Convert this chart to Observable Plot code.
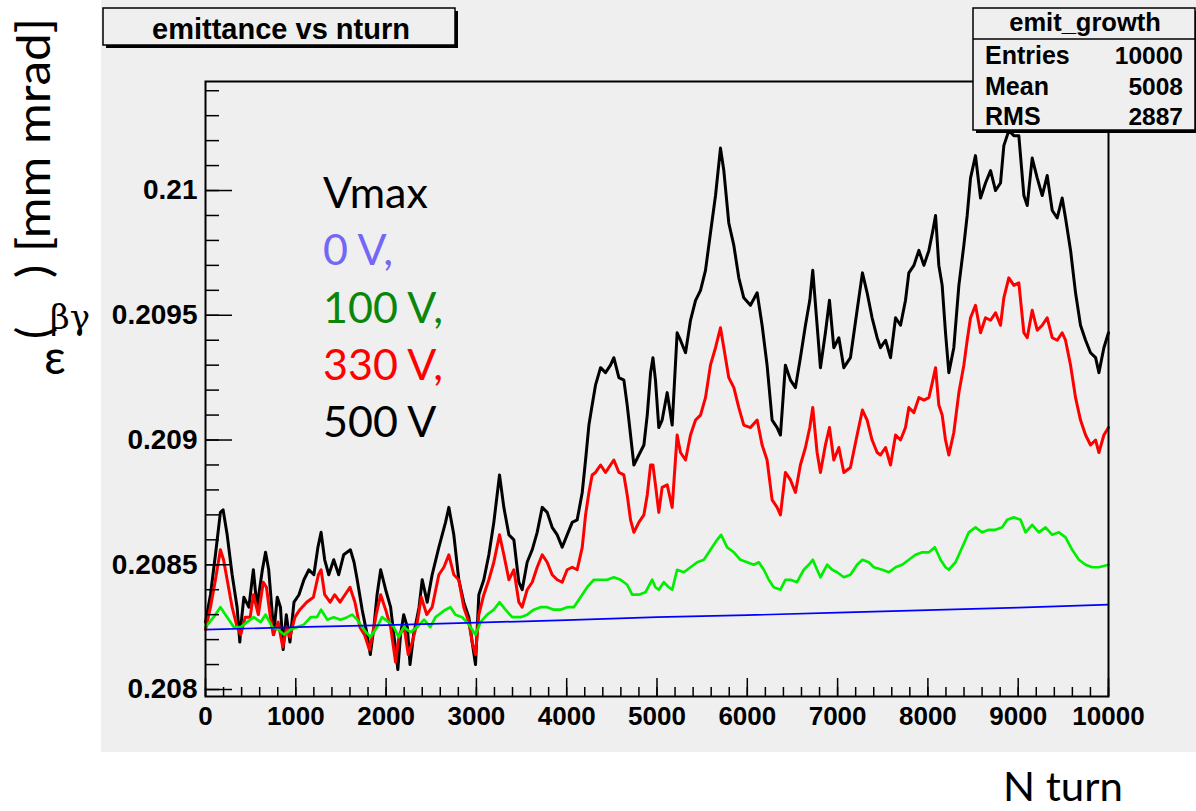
<!DOCTYPE html>
<html><head><meta charset="utf-8">
<script src="https://cdn.jsdelivr.net/npm/d3@7"></script>
<script src="https://cdn.jsdelivr.net/npm/@observablehq/plot@0.6"></script>
<style>
body{margin:0;background:#fff;}
#chart{width:1196px;height:811px;}
</style></head><body><div id="chart"></div>
<script>
// ---- data (turn, emittance) ----
const emit0V = [[0,0.20824],[1000,0.20825],[2000,0.208258],[3000,0.208268],[4000,0.208278],[5000,0.20829],[6000,0.208298],[7000,0.208308],[8000,0.208318],[9000,0.208328],[10000,0.20834]];

const emit100V = [[0,0.20825],[90,0.20829],[165,0.20833],[240,0.20829],[315,0.20825],[390,0.20825],[460,0.20827],[535,0.20829],[610,0.20827],[665,0.20830],[740,0.20825],[810,0.20824],[870,0.20822],[940,0.20824],[1015,0.20825],[1090,0.20826],[1165,0.20829],[1235,0.20829],[1280,0.20832],[1350,0.20828],[1420,0.20829],[1495,0.20828],[1570,0.20829],[1625,0.20830],[1680,0.20828],[1755,0.20824],[1825,0.20821],[1900,0.20825],[1955,0.20829],[2030,0.20827],[2085,0.20825],[2140,0.20821],[2195,0.20825],[2270,0.20823],[2345,0.20825],[2420,0.20828],[2490,0.20825],[2547,0.20829],[2658,0.20832],[2713,0.20833],[2768,0.20830],[2842,0.20829],[2916,0.20826],[2990,0.20822],[3045,0.20827],[3119,0.20830],[3193,0.20832],[3256,0.20835],[3322,0.20832],[3397,0.20829],[3489,0.20829],[3562,0.20830],[3636,0.20832],[3710,0.20833],[3784,0.20833],[3858,0.20832],[3932,0.20832],[4005,0.20833],[4079,0.20833],[4153,0.20837],[4227,0.20841],[4301,0.20844],[4375,0.20844],[4449,0.20844],[4522,0.20845],[4596,0.20844],[4670,0.20842],[4725,0.20838],[4799,0.20838],[4873,0.20839],[4947,0.20844],[4983,0.20841],[5020,0.20840],[5075,0.20843],[5131,0.20841],[5168,0.20840],[5223,0.20848],[5297,0.20847],[5371,0.20849],[5445,0.20851],[5519,0.20852],[5592,0.20856],[5666,0.20860],[5710,0.20862],[5777,0.20857],[5851,0.20855],[5924,0.20852],[5998,0.20851],[6072,0.20850],[6127,0.20851],[6183,0.20848],[6238,0.20844],[6293,0.20841],[6367,0.20840],[6422,0.20844],[6478,0.20844],[6551,0.20843],[6625,0.20848],[6681,0.20850],[6725,0.20852],[6773,0.20848],[6810,0.20845],[6884,0.20850],[6940,0.20848],[6995,0.20847],[7069,0.20845],[7142,0.20846],[7216,0.20850],[7275,0.20852],[7345,0.20851],[7401,0.20849],[7494,0.20848],[7568,0.20847],[7642,0.20849],[7715,0.20850],[7789,0.20852],[7863,0.20854],[7937,0.20855],[8011,0.20855],[8077,0.20857],[8140,0.20852],[8195,0.20849],[8232,0.20848],[8306,0.20851],[8380,0.20857],[8453,0.20863],[8527,0.20865],[8601,0.20863],[8675,0.20864],[8749,0.20864],[8823,0.20865],[8878,0.20868],[8952,0.20869],[9026,0.20868],[9081,0.20863],[9155,0.20866],[9229,0.20863],[9303,0.20865],[9377,0.20862],[9451,0.20863],[9524,0.20861],[9598,0.20856],[9672,0.20852],[9746,0.20850],[9820,0.20849],[9894,0.20849],[10000,0.20850]];

const emit330V = [[0,0.20824],[55,0.20833],[110,0.20844],[165,0.20856],[200,0.20852],[240,0.20844],[295,0.20833],[350,0.20825],[390,0.20822],[440,0.20829],[495,0.20829],[530,0.20838],[585,0.20830],[640,0.20843],[675,0.20841],[715,0.20830],[750,0.20822],[805,0.20827],[855,0.20817],[900,0.20825],[935,0.20821],[990,0.20829],[1045,0.20832],[1120,0.20835],[1195,0.20837],[1250,0.20846],[1280,0.20848],[1320,0.20838],[1380,0.20835],[1430,0.20838],[1490,0.20835],[1545,0.20838],[1600,0.20841],[1655,0.20835],[1710,0.20825],[1760,0.20822],[1815,0.20816],[1850,0.20822],[1890,0.20830],[1940,0.20838],[1995,0.20832],[2050,0.20825],[2105,0.20811],[2145,0.20822],[2200,0.20825],[2245,0.20814],[2290,0.20819],[2345,0.20827],[2390,0.20837],[2450,0.20830],[2510,0.20833],[2584,0.20846],[2640,0.20849],[2695,0.20854],[2750,0.20846],[2805,0.20844],[2860,0.20833],[2916,0.20827],[2953,0.20819],[2990,0.20814],[3027,0.20830],[3082,0.20838],[3138,0.20844],[3193,0.20851],[3256,0.20862],[3304,0.20854],[3360,0.20844],[3415,0.20848],[3470,0.20835],[3507,0.20833],[3562,0.20840],[3618,0.20843],[3673,0.20849],[3729,0.20854],[3784,0.20851],[3839,0.20846],[3895,0.20844],[3950,0.20843],[4005,0.20848],[4061,0.20849],[4116,0.20848],[4172,0.20857],[4209,0.20870],[4246,0.20879],[4282,0.20886],[4319,0.20887],[4375,0.20890],[4430,0.20887],[4485,0.20890],[4522,0.20892],[4578,0.20887],[4633,0.20886],[4670,0.20878],[4707,0.20868],[4744,0.20863],[4799,0.20867],[4855,0.20870],[4892,0.20878],[4929,0.20890],[4955,0.20890],[4983,0.20882],[5020,0.20871],[5057,0.20881],[5113,0.20882],[5168,0.20873],[5223,0.20902],[5260,0.20895],[5316,0.20892],[5371,0.20902],[5427,0.20908],[5482,0.20910],[5537,0.20917],[5592,0.20930],[5648,0.20937],[5703,0.20945],[5740,0.20937],[5795,0.20925],[5851,0.20921],[5906,0.20913],[5961,0.20906],[6035,0.20905],[6109,0.20908],[6164,0.20898],[6219,0.20892],[6275,0.20876],[6330,0.20873],[6367,0.20870],[6422,0.20887],[6478,0.20884],[6533,0.20879],[6588,0.20890],[6644,0.20897],[6692,0.20905],[6725,0.20913],[6773,0.20895],[6810,0.20887],[6865,0.20898],[6910,0.20905],[6958,0.20892],[7014,0.20897],[7069,0.20887],[7142,0.20889],[7216,0.20902],[7275,0.20912],[7327,0.20908],[7382,0.20900],[7438,0.20895],[7475,0.20894],[7531,0.20897],[7586,0.20890],[7642,0.20902],[7697,0.20900],[7752,0.20905],[7789,0.20913],[7845,0.20911],[7900,0.20917],[7956,0.20916],[8011,0.20917],[8055,0.20924],[8085,0.20929],[8121,0.20914],[8158,0.20910],[8195,0.20900],[8232,0.20894],[8287,0.20903],[8343,0.20919],[8398,0.20930],[8435,0.20940],[8472,0.20949],[8527,0.20954],[8583,0.20943],[8638,0.20949],[8694,0.20948],[8749,0.20951],[8804,0.20946],[8841,0.20957],[8896,0.20965],[8952,0.20962],[9007,0.20963],[9063,0.20943],[9100,0.20941],[9155,0.20952],[9211,0.20944],[9266,0.20946],[9321,0.20949],[9377,0.20941],[9432,0.20940],[9487,0.20943],[9524,0.20940],[9580,0.20930],[9635,0.20917],[9690,0.20908],[9746,0.20902],[9801,0.20898],[9857,0.20900],[9894,0.20895],[9949,0.20902],[10000,0.20905]];

const emit500V = [[0,0.20827],[55,0.20838],[110,0.20854],[165,0.20871],[195,0.20872],[240,0.20862],[295,0.20846],[350,0.20833],[380,0.20819],[390,0.20825],[425,0.20837],[480,0.20833],[530,0.20848],[570,0.20833],[630,0.20848],[665,0.20855],[700,0.20848],[740,0.20830],[755,0.20822],[795,0.20837],[830,0.20833],[860,0.20816],[895,0.20830],[935,0.20819],[980,0.20835],[1035,0.20838],[1090,0.20844],[1145,0.20848],[1200,0.20846],[1245,0.20857],[1280,0.20863],[1320,0.20852],[1365,0.20846],[1420,0.20852],[1475,0.20846],[1530,0.20854],[1605,0.20856],[1645,0.20851],[1680,0.20844],[1735,0.20832],[1790,0.20822],[1825,0.20814],[1865,0.20825],[1900,0.20838],[1940,0.20848],[1995,0.20840],[2050,0.20833],[2105,0.20816],[2130,0.20808],[2160,0.20822],[2195,0.20830],[2235,0.20825],[2265,0.20810],[2305,0.20822],[2365,0.20833],[2400,0.20844],[2455,0.20835],[2510,0.20846],[2584,0.20857],[2658,0.20867],[2695,0.20873],[2750,0.20862],[2805,0.20844],[2860,0.20835],[2916,0.20829],[2953,0.20819],[2990,0.20810],[3027,0.20838],[3082,0.20844],[3138,0.20854],[3193,0.20867],[3256,0.20886],[3304,0.20873],[3360,0.20862],[3415,0.20860],[3470,0.20843],[3507,0.20840],[3562,0.20851],[3618,0.20856],[3673,0.20863],[3729,0.20873],[3784,0.20871],[3839,0.20865],[3895,0.20862],[3950,0.20857],[4005,0.20862],[4061,0.20867],[4116,0.20868],[4172,0.20879],[4209,0.20892],[4246,0.20906],[4282,0.20914],[4319,0.20922],[4375,0.20929],[4430,0.20927],[4485,0.20930],[4522,0.20933],[4578,0.20925],[4633,0.20924],[4670,0.20914],[4707,0.20902],[4744,0.20890],[4799,0.20894],[4855,0.20898],[4892,0.20910],[4929,0.20927],[4955,0.20933],[4983,0.20924],[5020,0.20905],[5057,0.20908],[5113,0.20919],[5168,0.20906],[5223,0.20943],[5260,0.20940],[5316,0.20935],[5371,0.20948],[5427,0.20956],[5482,0.20960],[5537,0.20968],[5592,0.20983],[5648,0.20998],[5703,0.21017],[5740,0.21008],[5795,0.20987],[5851,0.20978],[5906,0.20965],[5961,0.20957],[6035,0.20954],[6109,0.20959],[6164,0.20946],[6219,0.20930],[6275,0.20908],[6330,0.20905],[6367,0.20902],[6422,0.20930],[6478,0.20924],[6533,0.20921],[6588,0.20933],[6644,0.20946],[6692,0.20956],[6725,0.20968],[6773,0.20946],[6810,0.20929],[6865,0.20943],[6910,0.20956],[6958,0.20937],[7014,0.20941],[7069,0.20929],[7142,0.20933],[7216,0.20952],[7275,0.20967],[7327,0.20959],[7382,0.20949],[7438,0.20941],[7475,0.20937],[7531,0.20940],[7586,0.20933],[7642,0.20949],[7697,0.20946],[7752,0.20956],[7789,0.20967],[7845,0.20970],[7900,0.20976],[7956,0.20970],[8011,0.20976],[8055,0.20984],[8085,0.20990],[8121,0.20970],[8158,0.20962],[8195,0.20943],[8232,0.20927],[8287,0.20937],[8343,0.20962],[8398,0.20978],[8435,0.20990],[8472,0.21005],[8527,0.21014],[8583,0.20997],[8638,0.21003],[8694,0.21008],[8749,0.21000],[8804,0.21003],[8841,0.21018],[8896,0.21024],[8952,0.21022],[9007,0.21022],[9063,0.20998],[9100,0.20994],[9155,0.21013],[9211,0.21005],[9266,0.20998],[9321,0.21006],[9377,0.20992],[9432,0.20989],[9487,0.20997],[9524,0.20989],[9580,0.20976],[9635,0.20959],[9690,0.20946],[9746,0.20940],[9801,0.20935],[9857,0.20933],[9894,0.20927],[9949,0.20937],[10000,0.20943]];

// axis ticks and labels
const xMajorTicks = [0,1000,2000,3000,4000,5000,6000,7000,8000,9000,10000];
const xMinorTicks = d3.range(0, 10001, 200);
const yMajorTicks = [0.208, 0.2085, 0.209, 0.2095, 0.21];
const yTickLabels = ["0.208", "0.2085", "0.209", "0.2095", "0.21"];
const yMinorTicks = d3.range(0, 25).map(i => +(0.208 + i * 0.0001).toFixed(4));

// legend / stats text
const legendLabels = ["Vmax", "0 V,", "100 V,", "330 V,", "500 V"];
const legendColors = ["#000000", "#7466f6", "#0b860b", "#ff0000", "#000000"];
const statNames = ["Entries", "Mean", "RMS"];
const statValues = ["10000", "5008", "2887"];

const rows = (arr) => arr.map(([turn, emit]) => ({turn, emit}));
const helv = "'Liberation Sans', Arial, sans-serif";
const sans = "Lato, 'Open Sans', sans-serif";

const plot = Plot.plot({
  width: 1196, height: 811,
  marginLeft: 205, marginRight: 88, marginTop: 81, marginBottom: 115,
  x: {domain: [0, 10000]},
  y: {domain: [0.207972, 0.210437]},
  style: {background: "transparent", fontFamily: helv, color: "black"},
  marks: [
    Plot.line(rows(emit500V), {x: "turn", y: "emit", stroke: "#000000", strokeWidth: 3}),
    Plot.line(rows(emit330V), {x: "turn", y: "emit", stroke: "#ff0000", strokeWidth: 3}),
    Plot.line(rows(emit100V), {x: "turn", y: "emit", stroke: "#00ee00", strokeWidth: 2.7}),
    Plot.line(rows(emit0V), {x: "turn", y: "emit", stroke: "#0000ff", strokeWidth: 1.7}),
    Plot.frame({stroke: "black", strokeWidth: 2}),
    Plot.axisY(yMinorTicks, {tickSize: -14, tickFormat: () => "", label: null, strokeWidth: 1.5}),
    Plot.axisY(yMajorTicks, {tickSize: -27, tickFormat: () => "", label: null, strokeWidth: 1.5}),
    Plot.axisY(yMajorTicks, {tickSize: 0, tickPadding: 8, label: null, fontSize: 28, fontWeight: "bold",
      tickFormat: d => yTickLabels[yMajorTicks.indexOf(d)]}),
    Plot.axisX(xMinorTicks, {tickSize: -9, tickFormat: () => "", label: null, strokeWidth: 1.5}),
    Plot.axisX(xMajorTicks, {tickSize: -18, tickFormat: () => "", label: null, strokeWidth: 1.5}),
    Plot.axisX(xMajorTicks, {tickSize: 0, tickPadding: 10, label: null, fontSize: 26, fontWeight: "bold",
      tickFormat: d => String(d)})
  ]
});

const svg = d3.select(plot);
// gray pad
svg.insert("rect", ":first-child").attr("x", 101).attr("y", 0).attr("width", 1095).attr("height", 752).attr("fill", "#efefef");

const txt = (g, x, y, s, anchor, family, size, weight) =>
  g.append("text").attr("x", x).attr("y", y).attr("text-anchor", anchor).attr("font-family", family)
   .attr("font-size", size).attr("font-weight", weight || "normal").text(s);

// title box with shadow
const tb = svg.append("g");
tb.append("rect").attr("x", 106).attr("y", 11).attr("width", 352).attr("height", 37).attr("fill", "black");
tb.append("rect").attr("x", 103).attr("y", 8).attr("width", 352).attr("height", 37).attr("fill", "#efefef").attr("stroke", "black").attr("stroke-width", 1.5);
txt(tb, 281, 39, "emittance vs nturn", "middle", helv, 29, "bold");

// stats box
const sb = svg.append("g");
sb.append("rect").attr("x", 976).attr("y", 11).attr("width", 222).attr("height", 122).attr("fill", "black");
sb.append("rect").attr("x", 973).attr("y", 8).attr("width", 222).attr("height", 122).attr("fill", "#efefef").attr("stroke", "black").attr("stroke-width", 1.5);
sb.append("line").attr("x1", 973).attr("x2", 1196).attr("y1", 39).attr("y2", 39).attr("stroke", "black").attr("stroke-width", 1.5);
txt(sb, 1085, 31, "emit_growth", "middle", helv, 25.5, "bold");
statNames.forEach((n, i) => {
  const y = 64 + i * 30.5;
  txt(sb, 985, y, n, "start", helv, 25, "bold");
  txt(sb, 1183, y, statValues[i], "end", helv, 24.5, "bold");
});

// legend text
legendLabels.forEach((t, i) => {
  txt(svg, 323, 208 + i * 57.3, t, "start", sans, 43).attr("fill", legendColors[i]);
});

// y label
svg.append("text").attr("transform", "translate(50,278) rotate(-90)").attr("text-anchor", "start")
  .attr("font-family", sans).attr("font-size", 46)
  .attr("textLength", 260).attr("lengthAdjust", "spacingAndGlyphs").text(") [mm mrad]");
svg.append("text").attr("transform", "translate(50,339) rotate(-90)").attr("text-anchor", "start")
  .attr("font-family", sans).attr("font-size", 46).text("(");
txt(svg, 70, 329, "βγ", "middle", "'DejaVu Serif', 'Liberation Serif', serif", 34);
txt(svg, 55, 374, "ε", "middle", sans, 48);

// x label
txt(svg, 1003, 801, "N turn", "start", sans, 40).attr("textLength", 120).attr("lengthAdjust", "spacingAndGlyphs");

document.getElementById("chart").appendChild(plot);
</script>
</body></html>
